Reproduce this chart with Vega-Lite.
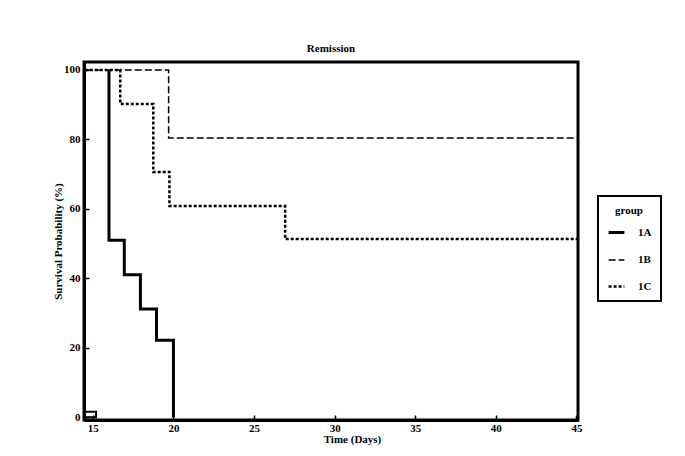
{
  "$schema": "https://vega.github.io/schema/vega-lite/v6.json",
  "width": 494,
  "height": 358,
  "autosize": {"type": "none"},
  "padding": {"left": 84, "top": 62, "right": 107, "bottom": 36},
  "background": "white",
  "title": {"text": "Remission", "font": "Liberation Serif", "fontSize": 11, "fontWeight": "bold", "color": "black", "offset": 8, "anchor": "middle"},
  "config": {
    "view": {"stroke": "black", "strokeWidth": 3},
    "axis": {
      "domainColor": "black", "domainWidth": 3,
      "tickColor": "black", "tickWidth": 1.5, "tickSize": -5,
      "labelFont": "Liberation Serif", "labelFontWeight": "bold", "labelFontSize": 11, "labelColor": "black",
      "titleFont": "Liberation Serif", "titleFontWeight": "bold", "titleFontSize": 11, "titleColor": "black",
      "grid": false
    },
    "legend": {
      "orient": "none", "legendX": 514, "legendY": 134,
      "titleFont": "Liberation Serif", "titleFontWeight": "bold", "titleFontSize": 11, "titleColor": "black", "titleAnchor": "middle",
      "labelFont": "Liberation Serif", "labelFontWeight": "bold", "labelFontSize": 11, "labelColor": "black",
      "strokeColor": "black", "strokeWidth": 2, "padding": 9,
      "symbolType": "stroke", "symbolSize": 250, "symbolStrokeColor": "black",
      "rowPadding": 12, "labelOffset": 12, "titlePadding": 7
    }
  },
  "layer": [
    {
      "data": {"values": [
        {"group": "1A", "i": 1, "day": 16, "surv": 100},
        {"group": "1A", "i": 2, "day": 16, "surv": 51},
        {"group": "1A", "i": 3, "day": 16.95, "surv": 41},
        {"group": "1A", "i": 4, "day": 17.95, "surv": 31.2},
        {"group": "1A", "i": 5, "day": 18.95, "surv": 22.2},
        {"group": "1A", "i": 6, "day": 20, "surv": 0},
        {"group": "1B", "i": 1, "day": 14.5, "surv": 100},
        {"group": "1B", "i": 2, "day": 19.7, "surv": 80.4},
        {"group": "1B", "i": 3, "day": 45.1, "surv": 80.4},
        {"group": "1C", "i": 1, "day": 14.5, "surv": 100},
        {"group": "1C", "i": 2, "day": 16.7, "surv": 90.2},
        {"group": "1C", "i": 3, "day": 18.75, "surv": 70.6},
        {"group": "1C", "i": 4, "day": 19.75, "surv": 60.8},
        {"group": "1C", "i": 5, "day": 26.93, "surv": 51.3},
        {"group": "1C", "i": 6, "day": 45.1, "surv": 51.3}
      ]},
      "mark": {"type": "line", "interpolate": "step-after", "color": "black", "clip": true},
      "encoding": {
        "x": {"field": "day", "type": "quantitative",
              "scale": {"domain": [14.45, 45.1], "nice": false, "zero": false},
              "axis": {"title": "Time (Days)", "values": [15, 20, 25, 30, 35, 40, 45], "labelPadding": 7,
                       "titleX": 268, "titleY": 22, "titleBaseline": "alphabetic"}},
        "y": {"field": "surv", "type": "quantitative",
              "scale": {"domain": [-0.8, 102.3], "nice": false, "zero": false},
              "axis": {"title": "Survival Probability (%)", "values": [0, 10, 20, 30, 40, 50, 60, 70, 80, 90, 100],
                       "labelExpr": "datum.value % 20 === 0 ? datum.label : ''", "labelPadding": 9, "titlePadding": 0}},
        "order": {"field": "i", "type": "quantitative"},
        "strokeDash": {"field": "group", "type": "nominal",
                       "scale": {"domain": ["1A", "1B", "1C"], "range": [[1, 0], [7, 3], [3, 2]]},
                       "legend": {"title": "group"}},
        "strokeWidth": {"field": "group", "type": "nominal",
                        "scale": {"type": "ordinal", "domain": ["1A", "1B", "1C"], "range": [3, 1.5, 2.5]},
                        "legend": {"title": "group"}}
      }
    },
    {
      "data": {"values": [{"day": 14.45, "day2": 15.2, "surv": 0, "surv2": 1.6}]},
      "mark": {"type": "rect", "fill": null, "stroke": "black", "strokeWidth": 2},
      "encoding": {
        "x": {"field": "day", "type": "quantitative"},
        "x2": {"field": "day2"},
        "y": {"field": "surv", "type": "quantitative"},
        "y2": {"field": "surv2"}
      }
    }
  ]
}
